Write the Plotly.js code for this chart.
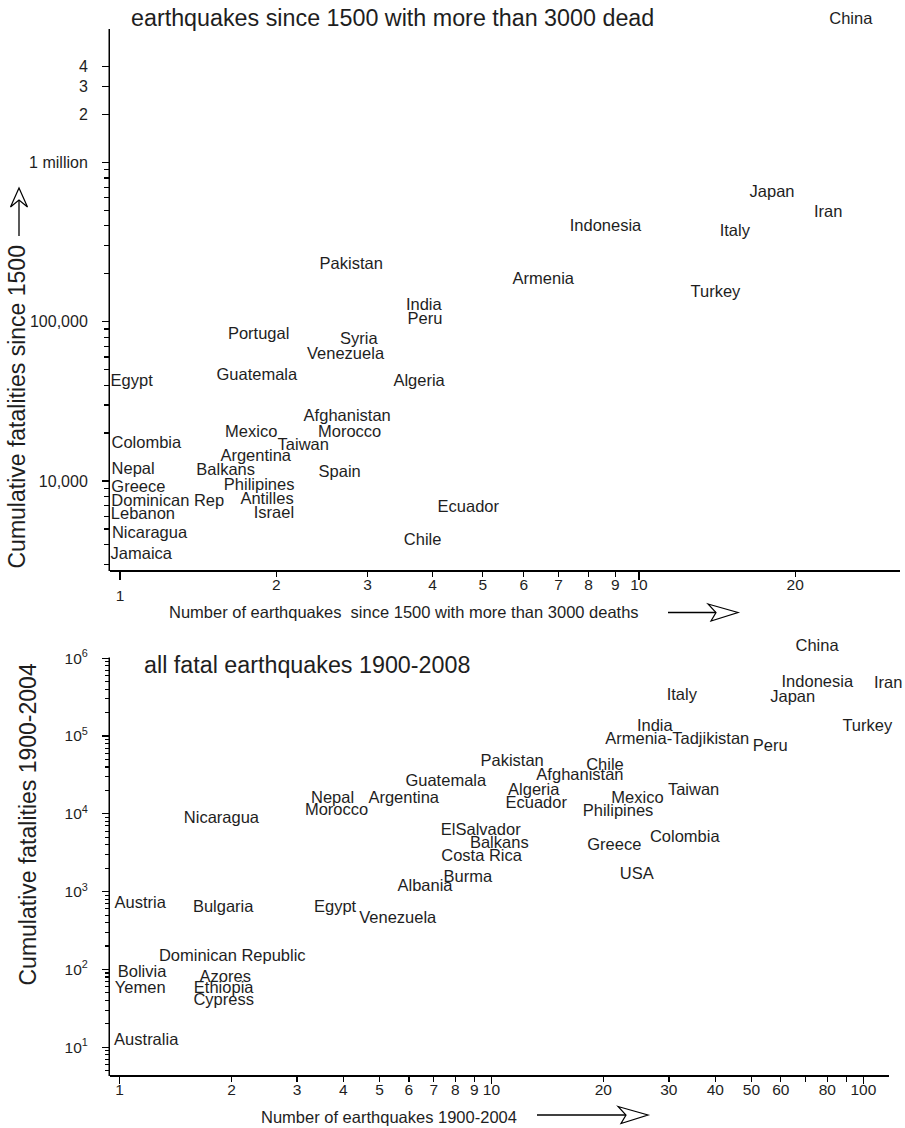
<!DOCTYPE html>
<html><head><meta charset="utf-8">
<script src="https://cdn.plot.ly/plotly-3.0.1.min.js"></script>
<style>html,body{margin:0;padding:0;background:#fff}#chart{width:905px;height:1128px}</style>
</head><body><div id="chart"></div>
<script>
// ---------- Data: earthquakes since 1500 with more than 3000 dead ----------
const topCountries = ["China","Japan","Iran","Indonesia","Italy","Armenia","Turkey","Pakistan","India","Peru",
  "Syria","Venezuela","Algeria","Afghanistan","Morocco","Taiwan","Spain","Ecuador","Chile","Portugal",
  "Egypt","Guatemala","Colombia","Mexico","Argentina","Nepal","Balkans","Greece","Philipines","Dominican Rep",
  "Antilles","Lebanon","Israel","Nicaragua","Jamaica"];
const topQuakes = [25.6,18.05,23.15,8.62,15.3,6.54,14.04,2.79,3.85,3.87,
  2.885,2.72,3.77,2.74,2.77,2.255,2.65,4.69,3.83,1.85,
  1.053,1.835,1.124,1.79,1.826,1.06,1.598,1.085,1.854,1.236,
  1.92,1.107,1.98,1.14,1.099];
const topDeaths = [7.9e6,641000,480000,395000,368000,183000,152000,227000,126000,103000,
  77400,61900,41900,25300,19950,16700,11200,6750,4200,82600,
  42100,45700,17000,20100,14100,11700,11500,9000,9300,7430,
  7600,6120,6190,4640,3440];

// ---------- Data: all fatal earthquakes 1900-2008 ----------
const botCountries = ["China","Indonesia","Iran","Japan","Italy","Turkey","India","Armenia-Tadjikistan","Peru","Chile",
  "Afghanistan","Pakistan","Guatemala","Algeria","Ecuador","Nepal","Morocco","Argentina","Mexico","Taiwan",
  "Philipines","Greece","Colombia","USA","ElSalvador","Balkans","Costa Rica","Burma","Albania","Egypt",
  "Venezuela","Nicaragua","Austria","Bulgaria","Dominican Republic","Bolivia","Yemen","Azores","Ethiopia","Cypress",
  "Australia"];
const botQuakes = [75.1,75.2,116.6,64.6,32.5,102.5,27.5,31.6,56.2,20.2,
  17.3,11.37,7.54,13.0,13.2,3.74,3.835,5.81,24.7,34.96,
  21.9,21.4,33.1,24.6,9.36,10.5,9.41,8.64,6.63,3.80,
  5.6,1.88,1.137,1.90,2.01,1.15,1.137,1.925,1.906,1.906,
  1.18];
const botDeaths = [1.38e6,485000,464000,306000,327000,132000,130000,89000,73100,41700,
  30700,46900,25500,19900,13300,15800,11000,15800,15500,19700,
  10700,3900,4940,1640,6080,4060,2820,1510,1160,612,
  446,8600,689,622,144,91,56,79,56,39,
  12];

// ---------- Tick labels ----------
const topXTicks = [1,2,3,4,5,6,7,8,9,10,20];
const topXText = ["","2","3","4","5","6","7","8","9","10","20"];
const topXLong = [1,10];
const topXLongText = ["1",""];
const topYTicks = [1e4,1e5,1e6,2e6,3e6,4e6];
const topYText = ["10,000","100,000","1 million","2","3","4"];
const topYMinor = [3000,4000,5000,6000,7000,8000,9000,20000,30000,40000,50000,60000,70000,80000,90000,
  200000,300000,400000,500000,600000,700000,800000,900000];
const botXTicks = [1,2,3,4,5,6,7,8,9,10,20,30,40,50,60,80,100];
const botXText = ["1","2","3","4","5","6","7","8","9","10","20","30","40","50","60","80","100"];
const botXMinor = [70,90];
const botXLong = [1,10,100];
const botYTicks = [10,100,1000,1e4,1e5,1e6];
const botYText = ["10<sup>1</sup>","10<sup>2</sup>","10<sup>3</sup>","10<sup>4</sup>","10<sup>5</sup>","10<sup>6</sup>"];
const botYMinor = [5,6,7,8,9,20,30,40,50,60,70,80,90,200,300,400,500,600,700,800,900,
  2000,3000,4000,5000,6000,7000,8000,9000,20000,30000,40000,50000,60000,70000,80000,90000,
  200000,300000,400000,500000,600000,700000,800000,900000];

// ---------- Layout helpers ----------
const W = 905, H = 1128;
const fx = p => p / W, fy = p => 1 - p / H;
const FONT = "Liberation Sans, Arial, Helvetica, sans-serif";
const INK = "#1e1e1e";

const labelTrace = (x, y, t, xa, ya) => ({
  type: "scatter", mode: "text", x: x, y: y, text: t, xaxis: xa, yaxis: ya,
  textposition: "middle center", textfont: {family: FONT, size: 16.5, color: INK},
  cliponaxis: false, hoverinfo: "skip", showlegend: false
});

const axisBase = {
  type: "log", showgrid: false, zeroline: false, showline: true, linecolor: "#000", linewidth: 1.5,
  ticks: "outside", ticklen: 5, tickwidth: 1.3, tickcolor: "#000", tickmode: "array",
  tickfont: {family: FONT, size: 15.5, color: INK}, fixedrange: true
};

function arrowH(x0, x1, y) { // horizontal open arrow, pixel coords
  return [
    {type: "line", xref: "paper", yref: "paper", x0: fx(x0), x1: fx(x1 - 22), y0: fy(y), y1: fy(y), line: {color: "#000", width: 1.3}},
    {type: "path", xref: "paper", yref: "paper",
     path: `M ${fx(x1-30)} ${fy(y-8.5)} L ${fx(x1)} ${fy(y)} L ${fx(x1-27)} ${fy(y+8.5)} L ${fx(x1-22)} ${fy(y)} Z`,
     line: {color: "#000", width: 1.2}, fillcolor: "rgba(0,0,0,0)"}
  ];
}
function arrowV(x, y0, y1) { // vertical open arrow pointing up, tip at y1
  return [
    {type: "line", xref: "paper", yref: "paper", x0: fx(x), x1: fx(x), y0: fy(y0), y1: fy(y1 + 12), line: {color: "#000", width: 1.3}},
    {type: "path", xref: "paper", yref: "paper",
     path: `M ${fx(x-8.5)} ${fy(y1+19)} L ${fx(x)} ${fy(y1)} L ${fx(x+8.5)} ${fy(y1+19)} L ${fx(x)} ${fy(y1+12)} Z`,
     line: {color: "#000", width: 1.2}, fillcolor: "rgba(0,0,0,0)"}
  ];
}
function yLine(x, yTop, yBot) { // visible part of a y axis line
  return {type: "line", xref: "paper", yref: "paper", x0: fx(x), x1: fx(x), y0: fy(yTop), y1: fy(yBot),
          line: {color: "#000", width: 1.5}};
}

const data = [
  labelTrace(topQuakes, topDeaths, topCountries, "x", "y"),
  labelTrace(botQuakes, botDeaths, botCountries, "x2", "y2"),
  {type: "scatter", mode: "none", x: [], y: [], xaxis: "x3", yaxis: "y", hoverinfo: "skip", showlegend: false},
  {type: "scatter", mode: "none", x: [], y: [], xaxis: "x4", yaxis: "y2", hoverinfo: "skip", showlegend: false}
];

// top y axis: 159.26 px per decade, bottom y axis: 77.81 px per decade;
// domains reach a little above the drawn axis line so that the top labels stay visible
const layout = {
  width: W, height: H, margin: {l: 0, r: 0, t: 0, b: 0},
  paper_bgcolor: "#fff", plot_bgcolor: "rgba(0,0,0,0)", showlegend: false,
  font: {family: FONT, color: INK},
  title: {text: "earthquakes since 1500 with more than 3000 dead", x: fx(131), xanchor: "left",
          y: fy(18), yanchor: "middle", yref: "container", xref: "container",
          font: {family: FONT, size: 23.3, color: INK}},
  xaxis: Object.assign({}, axisBase, {domain: [fx(110), fx(900)], anchor: "y",
          range: [-0.0193, 1.503], tickvals: topXTicks, ticktext: topXText, ticklabelstandoff: -5}),
  xaxis3: Object.assign({}, axisBase, {overlaying: "x", anchor: "y", side: "bottom", showline: false,
          range: [-0.0193, 1.503], tickvals: topXLong, ticktext: topXLongText, ticklen: 9, ticklabelstandoff: 2}),
  yaxis: Object.assign({}, axisBase, {domain: [fy(570), fy(8)], anchor: "x", showline: false,
          range: [3.441, 6.970], tickvals: topYTicks, ticktext: topYText,
          tickfont: {family: FONT, size: 16, color: INK}, ticklabelstandoff: 11, ticklen: 7,
          minor: {tickvals: topYMinor, ticks: "outside", ticklen: 5, tickwidth: 1.2, tickcolor: "#000"}}),
  xaxis2: Object.assign({}, axisBase, {domain: [fx(110), fx(889)], anchor: "y2",
          range: [-0.0255, 2.069], tickvals: botXTicks, ticktext: botXText, ticklabelstandoff: -5,
          minor: {tickvals: botXMinor, ticks: "outside", ticklen: 5, tickwidth: 1.2, tickcolor: "#000"}}),
  xaxis4: Object.assign({}, axisBase, {overlaying: "x2", anchor: "y2", side: "bottom", showline: false,
          range: [-0.0255, 2.069], tickvals: botXLong, showticklabels: false, ticklen: 8}),
  yaxis2: Object.assign({}, axisBase, {domain: [fy(1075), fy(640)], anchor: "x2", showline: false,
          range: [0.644, 6.234], tickvals: botYTicks, ticktext: botYText,
          tickfont: {family: FONT, size: 15.5, color: INK}, ticklabelstandoff: 11, ticklen: 7,
          minor: {tickvals: botYMinor, ticks: "outside", ticklen: 4, tickwidth: 1.1, tickcolor: "#000"}}),
  annotations: [
    {text: "all fatal earthquakes 1900-2008", xref: "paper", yref: "paper", x: fx(142), y: fy(665),
     xanchor: "left", yanchor: "middle", showarrow: false, font: {family: FONT, size: 23.3, color: INK}},
    {text: "Number of earthquakes\u00a0 since 1500 with more than 3000 deaths", xref: "paper", yref: "paper",
     x: fx(404), y: fy(612), xanchor: "center", yanchor: "middle", showarrow: false,
     font: {family: FONT, size: 16.5, color: INK}},
    {text: "Number of earthquakes 1900-2004", xref: "paper", yref: "paper",
     x: fx(389), y: fy(1117), xanchor: "center", yanchor: "middle", showarrow: false,
     font: {family: FONT, size: 16.5, color: INK}},
    {text: "Cumulative fatalities since 1500", xref: "paper", yref: "paper", textangle: -90,
     x: fx(17), y: fy(407.5), xanchor: "center", yanchor: "middle", showarrow: false,
     font: {family: FONT, size: 23, color: INK}},
    {text: "Cumulative fatalities 1900-2004", xref: "paper", yref: "paper", textangle: -90,
     x: fx(27), y: fy(824.5), xanchor: "center", yanchor: "middle", showarrow: false,
     font: {family: FONT, size: 23, color: INK}}
  ],
  shapes: [].concat(
    [yLine(109.25, 29, 571), yLine(109.25, 657.5, 1076)],
    arrowH(668, 738, 612.5), arrowH(537, 648, 1115), arrowV(19, 236, 188))
};

Plotly.newPlot("chart", data, layout, {displayModeBar: false, staticPlot: true});
</script>
</body></html>
